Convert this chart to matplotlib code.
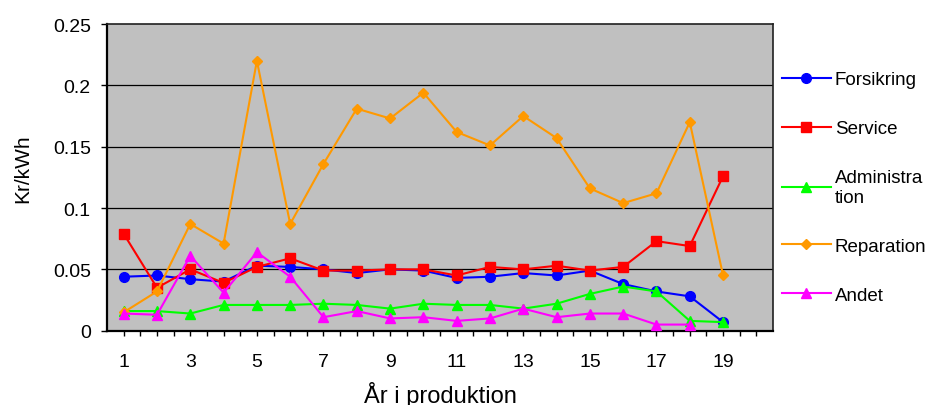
import matplotlib
matplotlib.use("Agg")
import matplotlib.pyplot as plt
from matplotlib.ticker import FixedLocator, FuncFormatter

plt.rcParams['font.family'] = ['Liberation Sans', 'DejaVu Sans']

years = list(range(1, 20))
forsikring = [0.044, 0.045, 0.042, 0.040, 0.053, 0.052, 0.050, 0.047, 0.050, 0.049,
              0.043, 0.044, 0.047, 0.045, 0.049, 0.038, 0.032, 0.028, 0.007]
service = [0.079, 0.035, 0.050, 0.039, 0.052, 0.059, 0.049, 0.049, 0.050, 0.050,
           0.045, 0.052, 0.050, 0.053, 0.049, 0.052, 0.073, 0.069, 0.126]
administration = [0.016, 0.016, 0.014, 0.021, 0.021, 0.021, 0.022, 0.021, 0.018, 0.022,
                  0.021, 0.021, 0.018, 0.022, 0.030, 0.036, 0.032, 0.008, 0.007]
reparation = [0.015, 0.032, 0.087, 0.071, 0.220, 0.087, 0.136, 0.181, 0.173, 0.194,
              0.162, 0.151, 0.175, 0.157, 0.116, 0.104, 0.112, 0.170, 0.045]
andet_years = list(range(1, 19))
andet = [0.014, 0.013, 0.061, 0.031, 0.064, 0.044, 0.011, 0.016, 0.010, 0.011,
         0.008, 0.010, 0.018, 0.011, 0.014, 0.014, 0.005, 0.005]

fig = plt.figure(figsize=(9.26, 4.06), dpi=100)
ax = fig.add_axes([0.1156, 0.183, 0.7192, 0.7554])
ax.set_facecolor('#C0C0C0')

ax.set_xlim(0.5, 20.5)
ax.set_ylim(0, 0.25)
for v in [0.05, 0.1, 0.15, 0.2]:
    ax.axhline(v, color='#000000', lw=0.9, zorder=1)

lw = 1.5
ms = 7
ax.plot(years, forsikring, color='#0000FF', marker='o', ms=ms, lw=lw, label='Forsikring', zorder=3)
ax.plot(years, service, color='#FF0000', marker='s', ms=ms, lw=lw, label='Service', zorder=3)
ax.plot(years, administration, color='#00FF00', marker='^', ms=ms, lw=lw, label='Administra\ntion', zorder=3)
ax.plot(years, reparation, color='#FF9900', marker='D', ms=5.5, lw=lw, label='Reparation', zorder=3)
ax.plot(andet_years, andet, color='#FF00FF', marker='^', ms=ms, lw=lw, label='Andet', zorder=3)

ax.xaxis.set_major_locator(FixedLocator([x / 2 for x in range(2, 41)]))
ax.xaxis.set_major_formatter(FuncFormatter(lambda x, p: f"{int(x)}" if (x == int(x) and int(x) % 2 == 1 and x <= 19) else ""))
ax.yaxis.set_major_locator(FixedLocator([0, 0.05, 0.1, 0.15, 0.2, 0.25]))
ax.yaxis.set_major_formatter(FuncFormatter(lambda y, p: f"{y:g}"))
ax.tick_params(axis='x', direction='out', length=3.6, width=1, pad=12.3, labelsize=14)
ax.tick_params(axis='y', direction='out', length=4.3, width=1, pad=7.4, labelsize=14)

for s in ['left', 'bottom']:
    ax.spines[s].set_linewidth(1.6)
for s in ['top', 'right']:
    ax.spines[s].set_linewidth(1.2)
    ax.spines[s].set_color('#202020')

ax.set_ylabel('Kr/kWh', fontsize=15)
ax.yaxis.set_label_coords(-0.112, 0.53)
ax.set_xlabel('År i produktion', fontsize=17)
ax.xaxis.set_label_coords(0.5, -0.163)

leg = ax.legend(loc='upper left', bbox_to_anchor=(1.013, 0.846), frameon=False,
                fontsize=13.5, handlelength=2.63, handletextpad=0.2,
                labelspacing=1.7, borderaxespad=0, borderpad=0)

fig.savefig('out.png', dpi=100)
